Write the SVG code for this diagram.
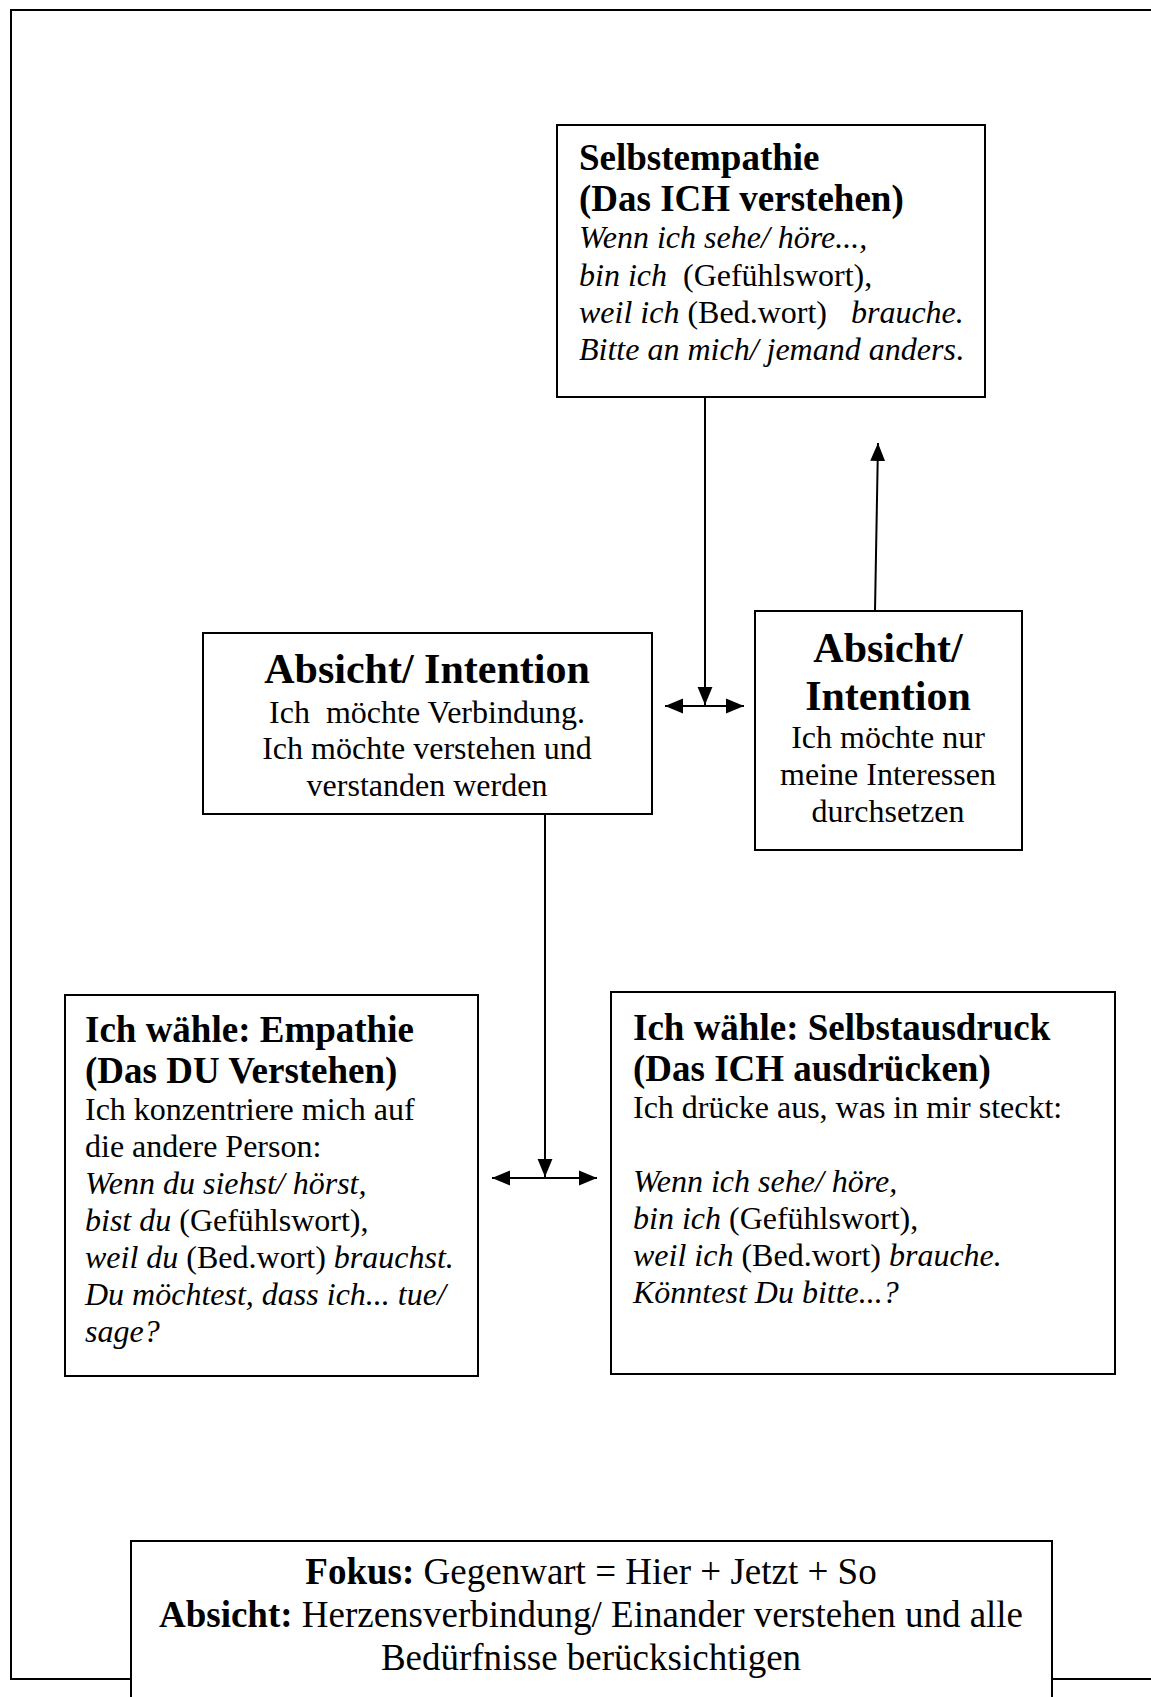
<svg xmlns="http://www.w3.org/2000/svg" width="1151" height="1697" viewBox="0 0 1151 1697">
<style>
text{font-family:"Liberation Serif","Times New Roman",serif;fill:#000}
.h{font-weight:bold;font-size:37px}
.h2{font-weight:bold;font-size:42px}
.b{font-size:32px}
.f{font-size:37px}
.i{font-style:italic}
.box{fill:#fff;stroke:#000;stroke-width:2}
.c{fill:none;stroke:#000;stroke-width:2}
.m{text-anchor:middle}
</style>
<defs>
<marker id="ah" markerUnits="userSpaceOnUse" markerWidth="18" markerHeight="16" viewBox="0 0 17 14" refX="17" refY="7" orient="auto-start-reverse">
<path d="M0,0 L17,7 L0,14 z" fill="#000"/>
</marker>
</defs>
<rect width="1151" height="1697" fill="#fff"/>
<g id="frame"><rect x="11" y="10" width="1200" height="1669" fill="none" stroke="#000" stroke-width="2"/></g>
<g id="connectors">
<line class="c" x1="705" y1="397" x2="705" y2="705" marker-end="url(#ah)"/>
<line class="c" x1="665" y1="706" x2="744" y2="706" marker-start="url(#ah)" marker-end="url(#ah)"/>
<line class="c" x1="875" y1="611" x2="878" y2="443" marker-end="url(#ah)"/>
<line class="c" x1="545" y1="814" x2="545" y2="1177" marker-end="url(#ah)"/>
<line class="c" x1="492" y1="1178" x2="597" y2="1178" marker-start="url(#ah)" marker-end="url(#ah)"/>
</g>
<g id="selbstempathie">
<rect class="box" x="557" y="125" width="428" height="272"/>
<text class="h" x="579" y="170">Selbstempathie</text>
<text class="h" x="579" y="211">(Das ICH verstehen)</text>
<text class="b i" x="579" y="248">Wenn ich sehe/ höre...,</text>
<text class="b" x="579" y="286" xml:space="preserve"><tspan class="i">bin ich</tspan>  (Gefühlswort),</text>
<text class="b" x="579" y="323" xml:space="preserve"><tspan class="i">weil ich</tspan> (Bed.wort)   <tspan class="i">brauche.</tspan></text>
<text class="b" x="579" y="360"><tspan class="i">Bitte an mich/ jemand anders</tspan>.</text>
</g>
<g id="absicht-links">
<rect class="box" x="203" y="633" width="449" height="181"/>
<text class="h2 m" x="427" y="683">Absicht/ Intention</text>
<text class="b m" x="427" y="723" xml:space="preserve">Ich  möchte Verbindung.</text>
<text class="b m" x="427" y="759">Ich möchte verstehen und</text>
<text class="b m" x="427" y="796">verstanden werden</text>
</g>
<g id="absicht-rechts">
<rect class="box" x="755" y="611" width="267" height="239"/>
<text class="h2 m" x="888" y="662">Absicht/</text>
<text class="h2 m" x="888" y="710">Intention</text>
<text class="b m" x="888" y="748">Ich möchte nur</text>
<text class="b m" x="888" y="785">meine Interessen</text>
<text class="b m" x="888" y="822">durchsetzen</text>
</g>
<g id="empathie">
<rect class="box" x="65" y="995" width="413" height="381"/>
<text class="h" x="85" y="1042">Ich wähle: Empathie</text>
<text class="h" x="85" y="1083">(Das DU Verstehen)</text>
<text class="b" x="85" y="1120">Ich konzentriere mich auf</text>
<text class="b" x="85" y="1157">die andere Person:</text>
<text class="b i" x="85" y="1194">Wenn du siehst/ hörst,</text>
<text class="b" x="85" y="1231"><tspan class="i">bist du</tspan> (Gefühlswort),</text>
<text class="b" x="85" y="1268"><tspan class="i">weil du</tspan> (Bed.wort) <tspan class="i">brauchst.</tspan></text>
<text class="b i" x="85" y="1305">Du möchtest, dass ich... tue/</text>
<text class="b i" x="85" y="1342">sage?</text>
</g>
<g id="selbstausdruck">
<rect class="box" x="611" y="992" width="504" height="382"/>
<text class="h" x="633" y="1040">Ich wähle: Selbstausdruck</text>
<text class="h" x="633" y="1081">(Das ICH ausdrücken)</text>
<text class="b" x="633" y="1118">Ich drücke aus, was in mir steckt:</text>
<text class="b i" x="633" y="1192">Wenn ich sehe/ höre,</text>
<text class="b" x="633" y="1229"><tspan class="i">bin ich</tspan> (Gefühlswort),</text>
<text class="b" x="633" y="1266"><tspan class="i">weil ich</tspan> (Bed.wort) <tspan class="i">brauche.</tspan></text>
<text class="b i" x="633" y="1303">Könntest Du bitte...?</text>
</g>
<g id="fokus">
<rect class="box" x="131" y="1541" width="921" height="200"/>
<text class="f m" x="591" y="1584"><tspan font-weight="bold">Fokus:</tspan> Gegenwart = Hier + Jetzt + So</text>
<text class="f m" x="591" y="1627"><tspan font-weight="bold">Absicht:</tspan> Herzensverbindung/ Einander verstehen und alle</text>
<text class="f m" x="591" y="1670">Bedürfnisse berücksichtigen</text>
</g>
</svg>
